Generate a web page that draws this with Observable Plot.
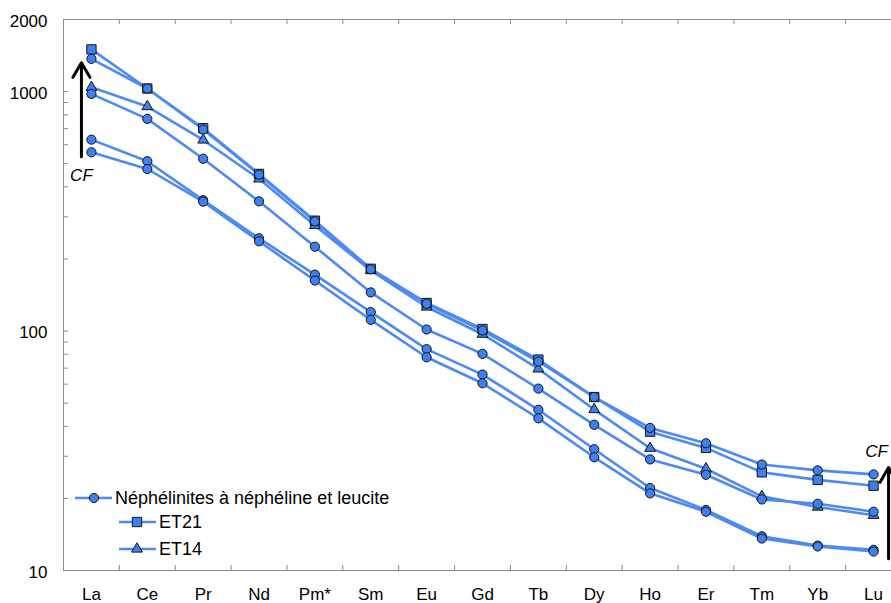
<!DOCTYPE html>
<html>
<head>
<meta charset="utf-8">
<script src="https://cdn.jsdelivr.net/npm/d3@7"></script>
<script src="https://cdn.jsdelivr.net/npm/@observablehq/plot@0.6"></script>
<style>
html, body { margin: 0; padding: 0; background: #fff; }
#chart { width: 891px; height: 603px; overflow: hidden; }
</style>
</head>
<body>
<div id="chart"></div>
<script>
// REE categories (x axis)
const elements = ["La", "Ce", "Pr", "Nd", "Pm*", "Sm", "Eu", "Gd", "Tb", "Dy", "Ho", "Er", "Tm", "Yb", "Lu"];

// Néphélinites à néphéline et leucite (circles), four samples
const neph1 = [1370, 1030, 694, 450, 287, 181, 130, 100.5, 74.6, 53, 39.4, 34, 27.7, 26.2, 25.2];
const neph2 = [978, 769, 524, 348, 225, 145, 101.5, 80.3, 57.5, 40.6, 29.1, 25.1, 19.8, 19.0, 17.6];
const neph3 = [630, 512, 352, 244, 172, 120, 84, 65.8, 46.9, 32.1, 22.1, 17.9, 13.9, 12.7, 12.2];
const neph4 = [558, 475, 347, 237, 162.5, 111.4, 77.7, 60.5, 43.2, 29.7, 21.0, 17.6, 13.6, 12.6, 12.0];
// ET21 (squares)
const et21 = [1500, 1030, 703, 453, 289, 182, 131, 102, 76, 53, 38, 32.5, 25.7, 23.9, 22.6];
// ET14 (triangles)
const et14 = [1042, 866, 628, 432, 276, 179, 126, 97, 69.5, 47, 32.4, 26.6, 20.4, 18.4, 17.0];

// y axis
const yDomain = [10, 2000];
const yLabels = [10, 100, 1000, 2000];
const yMinorTicks = [20, 30, 40, 50, 60, 70, 80, 90, 100, 200, 300, 400, 500, 600, 700, 800, 900, 1000];

// legend labels
const legendLabels = ["Néphélinites à néphéline et leucite", "ET21", "ET14"];

// CF annotations (arrows in data units)
const cfLeft = [{element: "La", from: 535, to: 1321, label: 446}];
const cfRight = [{element: "Lu", from: 11.2, to: 26.9, label: 31.4}];

// styles
const lineColor = "#4d8af5";
const markerFill = "#3f80f0";
const markerStroke = "#141414";
const axisColor = "#8c8c8c";

const W = 891, H = 603;
const mL = 63, mT = 19, mB = 33, mR = 0;
const xRange = [63, 901];
const step = (xRange[1] - xRange[0]) / elements.length;
const half = step / 2;
const innerH = H - mT - mB;
const innerW = W - mL - mR;

const rows = [];
function add(series, kind, vals) {
  vals.forEach((v, i) => rows.push({series, kind, element: elements[i], value: v}));
}
add("neph1", "circle", neph1);
add("neph2", "circle", neph2);
add("neph3", "circle", neph3);
add("neph4", "circle", neph4);
add("ET21", "square", et21);
add("ET14", "triangle", et14);

const plot = Plot.plot({
  width: W,
  height: H,
  marginLeft: mL,
  marginTop: mT,
  marginBottom: mB,
  marginRight: mR,
  style: {fontFamily: "'Liberation Sans', Arial, Helvetica, sans-serif", fontSize: "17px", background: "#fff", color: "#000"},
  x: {type: "point", domain: elements, range: xRange, padding: 0.5, round: false, axis: null},
  y: {type: "log", domain: yDomain, axis: null},
  marks: [
    Plot.ruleY([yDomain[1]], {stroke: axisColor, strokeWidth: 1}),
    Plot.ruleY([yDomain[0]], {stroke: axisColor, strokeWidth: 1}),
    Plot.ruleX([elements[0]], {dx: -half, stroke: axisColor, strokeWidth: 1}),
    Plot.ruleX(elements.slice(1), {dx: -half, insetTop: innerH - 5, stroke: axisColor}),
    Plot.ruleX(elements.slice(1), {dx: -half, insetBottom: innerH - 5, stroke: axisColor}),
    Plot.ruleY(yMinorTicks, {insetRight: innerW - 5, stroke: axisColor}),
    Plot.axisY({ticks: yLabels, tickSize: 0, tickPadding: 16, tickFormat: d => String(d), fontSize: 17, label: null, dy: 2}),
    Plot.axisX({tickSize: 0, tickPadding: 17, fontSize: 17, label: null}),
    Plot.line(rows, {x: "element", y: "value", z: "series", stroke: lineColor, strokeWidth: 2.6}),
    Plot.dot(rows.filter(d => d.kind === "triangle"), {x: "element", y: "value", symbol: "triangle", r: 4, fill: markerFill, stroke: markerStroke, strokeWidth: 1}),
    Plot.dot(rows.filter(d => d.kind === "square"), {x: "element", y: "value", symbol: "square", r: 5.25, fill: markerFill, stroke: markerStroke, strokeWidth: 1}),
    Plot.dot(rows.filter(d => d.kind === "circle"), {x: "element", y: "value", symbol: "circle", r: 4.6, fill: markerFill, stroke: markerStroke, strokeWidth: 1}),
    Plot.arrow(cfLeft, {x1: "element", x2: "element", y1: "from", y2: "to", dx: -10, stroke: "#000", strokeWidth: 3, headLength: 8.5}),
    Plot.arrow(cfRight, {x1: "element", x2: "element", y1: "from", y2: "to", dx: 15, stroke: "#000", strokeWidth: 3, headLength: 8.5}),
    Plot.text(cfLeft, {x: "element", y: "label", text: () => "CF", dx: -10, fontStyle: "italic", fontSize: 17, fill: "#000"}),
    Plot.text(cfRight, {x: "element", y: "label", text: () => "CF", dx: 3, fontStyle: "italic", fontSize: 17, fill: "#000"})
  ]
});

// Legend inside the plot area (bottom-left)
const svg = d3.select(plot);
const lg = svg.append("g")
  .attr("font-family", "'Liberation Sans', Arial, Helvetica, sans-serif")
  .attr("font-size", 18)
  .attr("text-anchor", "start");
const legendRows = [
  {label: legendLabels[0], sym: d3.symbolCircle, r: 4.6, x1: 75, x2: 112, cx: 94, y: 498, tx: 115},
  {label: legendLabels[1], sym: d3.symbolSquare, r: 5.25, x1: 119, x2: 156, cx: 137, y: 522, tx: 159},
  {label: legendLabels[2], sym: d3.symbolTriangle, r: 4, x1: 119, x2: 156, cx: 137, y: 549, tx: 159}
];
legendRows.forEach(d => {
  lg.append("line").attr("x1", d.x1).attr("x2", d.x2).attr("y1", d.y).attr("y2", d.y)
    .attr("stroke", lineColor).attr("stroke-width", 2.6);
  lg.append("path").attr("d", d3.symbol(d.sym, Math.PI * d.r * d.r)())
    .attr("transform", `translate(${d.cx},${d.y})`)
    .attr("fill", markerFill).attr("stroke", markerStroke).attr("stroke-width", 1);
  lg.append("text").attr("x", d.tx).attr("y", d.y).attr("dy", "0.35em")
    .attr("text-anchor", "start").attr("fill", "#000").text(d.label);
});

document.getElementById("chart").appendChild(plot);
</script>
</body>
</html>
